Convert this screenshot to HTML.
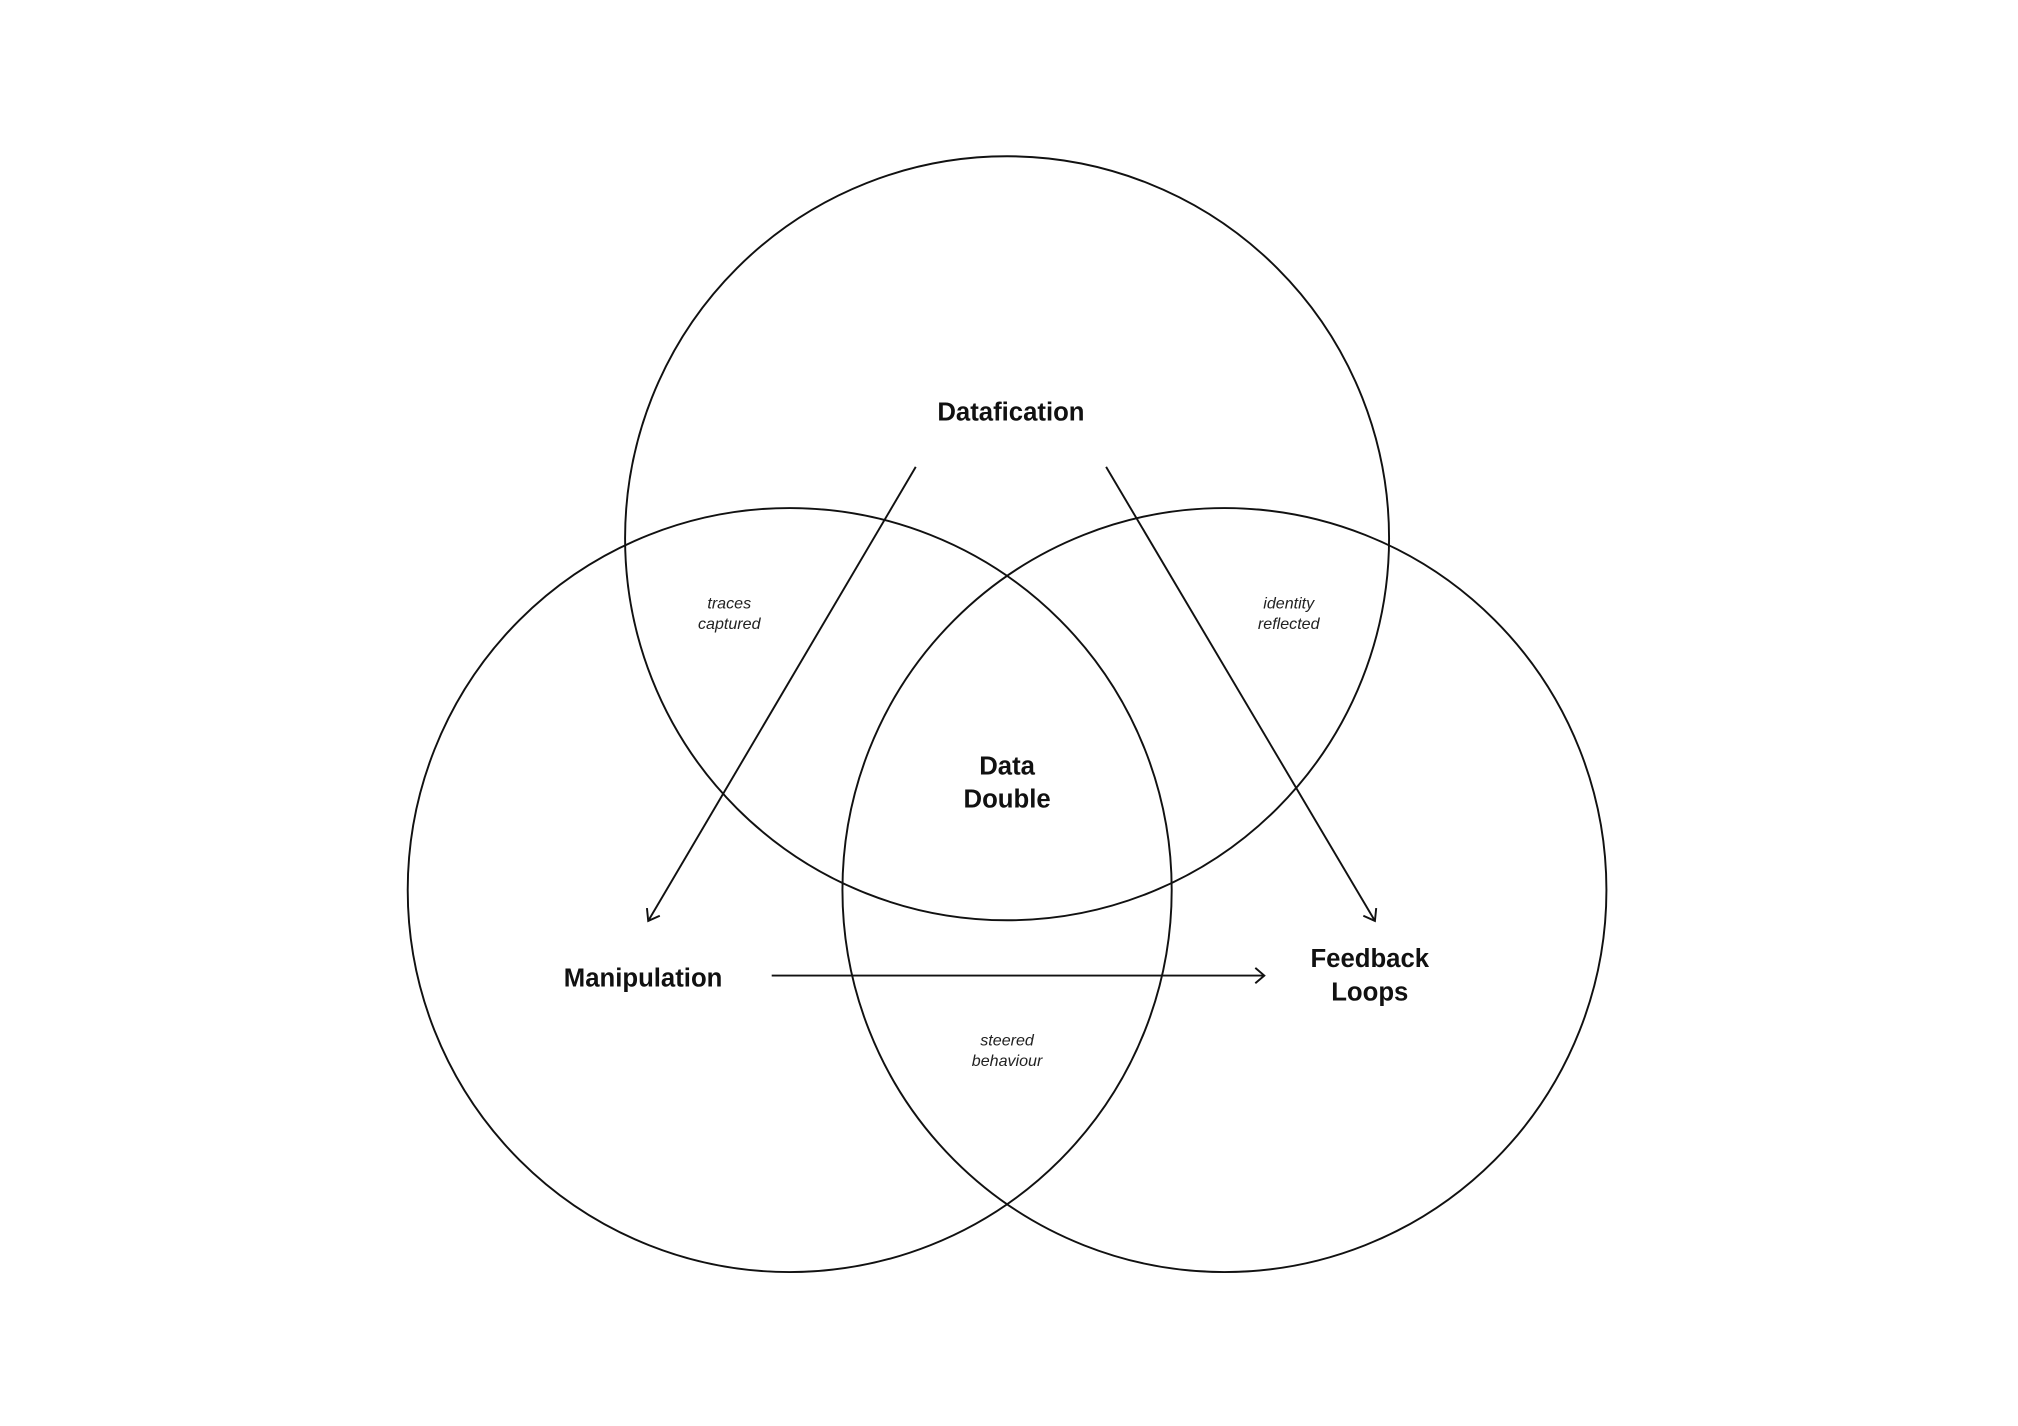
<!DOCTYPE html>
<html><head><meta charset="utf-8"><style>
html,body{margin:0;padding:0;background:#fff;}
svg{display:block;}
.b{font-family:"Liberation Sans",sans-serif;font-weight:bold;font-size:20px;fill:#111;text-anchor:middle;}
.i{font-family:"Liberation Sans",sans-serif;font-style:italic;font-size:12.5px;fill:#222;text-anchor:middle;}
</style></head><body>
<svg width="2018" height="1426" viewBox="0 0 1569 1108.7" preserveAspectRatio="none" xmlns="http://www.w3.org/2000/svg">
<rect width="1569" height="1108.7" fill="#fff"/>
<g fill="none" stroke="#111" stroke-width="1.5">
<circle cx="783" cy="418.5" r="297"/>
<circle cx="614" cy="692" r="297"/>
<circle cx="952" cy="692" r="297"/>
<line x1="712" y1="363" x2="504" y2="716"/>
<polyline points="503,706 504,716 513,712"/>
<line x1="860" y1="363" x2="1069" y2="716"/>
<polyline points="1060,712 1069,716 1070,706"/>
<line x1="600" y1="758.5" x2="983" y2="758.5"/>
<polyline points="976,752.5 983,758.5 976,764.5"/>
</g>
<text class="b" x="786" y="327">Datafication</text>
<text class="b" x="783" y="602">Data</text>
<text class="b" x="783" y="628">Double</text>
<text class="b" x="500" y="767">Manipulation</text>
<text class="b" x="1065" y="752">Feedback</text>
<text class="b" x="1065" y="778">Loops</text>
<text class="i" x="567" y="473">traces</text>
<text class="i" x="567" y="489">captured</text>
<text class="i" x="1002" y="473">identity</text>
<text class="i" x="1002" y="489">reflected</text>
<text class="i" x="783" y="813">steered</text>
<text class="i" x="783" y="829">behaviour</text>
</svg>
</body></html>
